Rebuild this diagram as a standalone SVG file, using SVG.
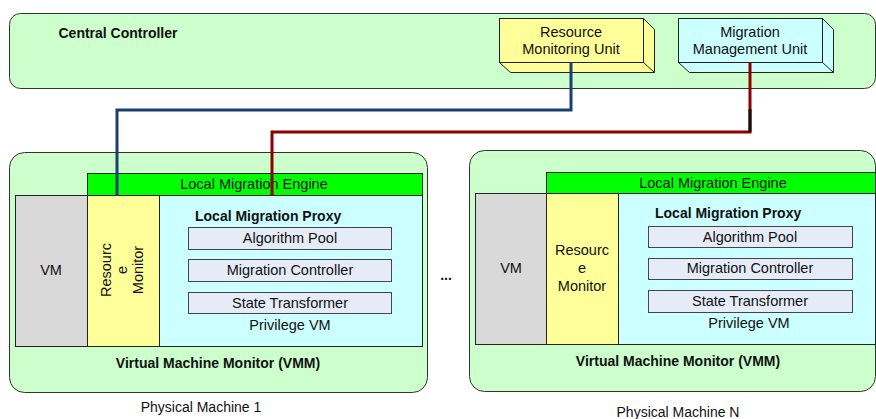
<svg xmlns="http://www.w3.org/2000/svg" width="876" height="419" viewBox="0 0 876 419">
<style>
text{font-family:"Liberation Sans",Arial,sans-serif;font-size:14.5px;fill:#111;text-anchor:middle;dominant-baseline:central}
.b{font-weight:bold;font-size:14px}
.ln{stroke:#222;stroke-width:1}
.pm{fill:#CCFFCC;stroke:#333;stroke-width:1}
.lme{fill:#00FF00;stroke:#222;stroke-width:1}
.vm{fill:#D9D9D9;stroke:#222;stroke-width:1}
.rm{fill:#FFFF99;stroke:#222;stroke-width:1}
.pv{fill:#CCFFFF;stroke:#222;stroke-width:1}
.sb{fill:#E6ECF7;stroke:#444;stroke-width:1}
.w{fill:none;stroke-width:3;stroke-linejoin:miter}
.cap{font-size:14px}
</style>
<g id="central-controller">
<rect x="9.5" y="13.5" width="866" height="75" rx="11" class="pm"/>
<text x="118" y="33" class="b">Central Controller</text>
</g>
<g id="resource-monitoring-unit">
<polygon points="499.5,18.5 643.5,18.5 654.5,29.5 654.5,72.5 510.5,72.5 499.5,62.5" class="rm"/>
<rect x="499.5" y="18.5" width="144" height="44" class="rm"/>
<line x1="643.5" y1="62.5" x2="654.5" y2="72.5" class="ln"/>
<text x="571" y="32">Resource</text>
<text x="571" y="49">Monitoring Unit</text>
</g>
<g id="migration-management-unit">
<polygon points="678.5,18.5 822.5,18.5 833.5,29.5 833.5,72.5 689.5,72.5 678.5,62.5" class="pv"/>
<rect x="678.5" y="18.5" width="144" height="44" class="pv"/>
<line x1="822.5" y1="62.5" x2="833.5" y2="72.5" class="ln"/>
<text x="750" y="32">Migration</text>
<text x="750" y="49">Management Unit</text>
</g>
<g id="physical-machine-1">
<rect x="9.5" y="152.5" width="418" height="240" rx="15" class="pm"/>
<rect x="87.5" y="173.5" width="335" height="22" class="lme"/>
<text x="254" y="184">Local Migration Engine</text>
<rect x="15.5" y="195.5" width="72" height="151" class="vm"/>
<text x="51" y="270">VM</text>
<rect x="87.5" y="195.5" width="72" height="151" class="rm"/>
<g transform="translate(122,270) rotate(-90)">
<text x="0" y="-16">Resourc</text>
<text x="0" y="0">e</text>
<text x="0" y="16">Monitor</text>
</g>
<rect x="159.5" y="195.5" width="263" height="151" class="pv"/>
<text x="195" y="216" class="b" style="text-anchor:start">Local Migration Proxy</text>
<rect x="188.5" y="227.5" width="203" height="22" class="sb"/>
<text x="290" y="238">Algorithm Pool</text>
<rect x="188.5" y="259.5" width="203" height="22" class="sb"/>
<text x="290" y="270">Migration Controller</text>
<rect x="188.5" y="292.5" width="203" height="21" class="sb"/>
<text x="290" y="303">State Transformer</text>
<text x="290" y="325">Privilege VM</text>
<text x="218" y="363" class="b">Virtual Machine Monitor (VMM)</text>
</g>
<text x="201" y="407" class="cap">Physical Machine 1</text>
<text x="446" y="275" class="b">...</text>
<g id="physical-machine-n">
<rect x="469.5" y="150.5" width="406" height="241" rx="15" class="pm"/>
<rect x="546.5" y="172.5" width="329" height="21" class="lme"/>
<text x="713" y="183">Local Migration Engine</text>
<rect x="475.5" y="193.5" width="71" height="151" class="vm"/>
<text x="511" y="268">VM</text>
<rect x="546.5" y="193.5" width="72" height="151" class="rm"/>
<text x="582" y="250">Resourc</text>
<text x="582" y="268">e</text>
<text x="582" y="286">Monitor</text>
<rect x="618.5" y="193.5" width="257" height="151" class="pv"/>
<text x="655" y="213" class="b" style="text-anchor:start">Local Migration Proxy</text>
<rect x="648.5" y="226.5" width="204" height="21" class="sb"/>
<text x="750" y="237">Algorithm Pool</text>
<rect x="648.5" y="258.5" width="204" height="21" class="sb"/>
<text x="750" y="268">Migration Controller</text>
<rect x="648.5" y="290.5" width="204" height="22" class="sb"/>
<text x="750" y="301">State Transformer</text>
<text x="749" y="323">Privilege VM</text>
<text x="678" y="361" class="b">Virtual Machine Monitor (VMM)</text>
</g>
<text x="678" y="412" class="cap">Physical Machine N</text>
<g id="connectors">
<polyline points="571,62 571,110 117,110 117,196" class="w" stroke="#1B3F6E"/>
<polyline points="750,62 750,132 272,132 272,196" class="w" stroke="#8B0000"/>
<line x1="750" y1="109" x2="750" y2="132" stroke="#111" stroke-width="3"/>
</g>
</svg>
